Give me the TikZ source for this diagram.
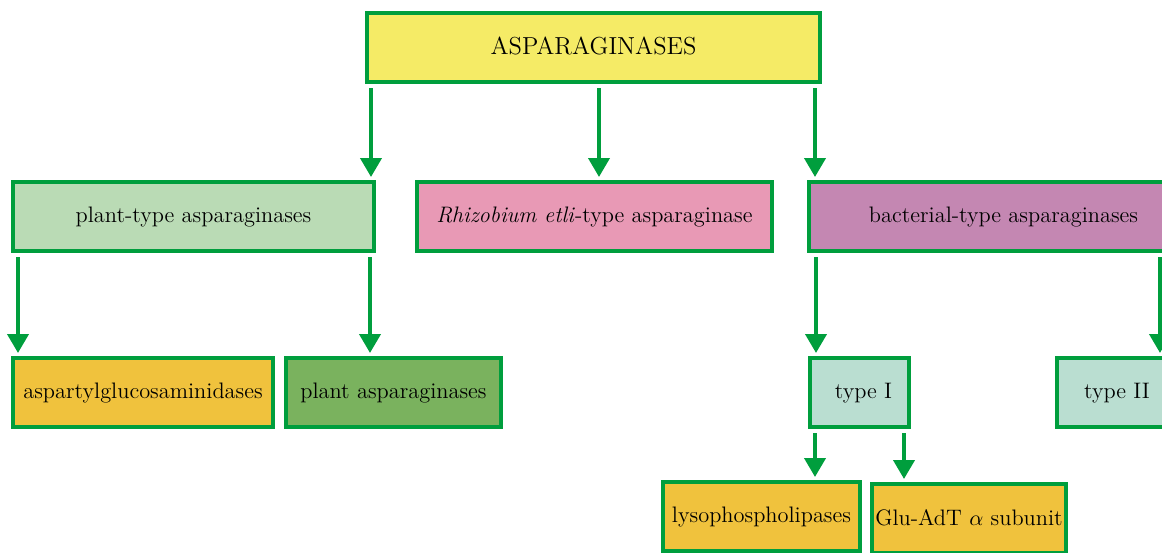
\documentclass[tikz,border=0pt]{standalone}
\usepackage{xcolor}
\usepackage{amssymb}
\usepackage{amsmath}
\usepackage{tikz}
\usetikzlibrary{arrows.meta}
\definecolor{ggreen}{rgb}{0.,0.62,0.24}
\definecolor{fyellow}{rgb}{0.96,0.92,0.40}
\definecolor{lgreen}{rgb}{0.73,0.86,0.71}
\definecolor{ppink}{rgb}{0.91,0.60,0.71}
\definecolor{mauve}{rgb}{0.77,0.53,0.70}
\definecolor{ochre}{rgb}{0.94,0.76,0.24}
\definecolor{mgreen}{rgb}{0.48,0.70,0.37}
\definecolor{lteal}{rgb}{0.73,0.87,0.82}
\tikzset{
  fam/.style={draw=ggreen,line width=2pt,minimum height=34.5pt,inner sep=1pt,
    text depth=0.3ex,font=\fontsize{11.2}{13}\selectfont},
  arr/.style={ggreen,line width=2pt,-{Triangle[width=10.5pt,length=9.5pt]},shorten <=2pt,shorten >=1.5pt}
}

\begin{document}
\begin{tikzpicture}[line cap=butt,line join=miter,x=0.5pt,y=-0.5pt]
\useasboundingbox (0,0) rectangle (1162,552);
\clip (0,0) rectangle (1162,552);
% boxes
\node [fam,fill=fyellow,minimum width=226.5pt,font=\fontsize{12.3}{14}\selectfont] (root) at (593.5,47.5) {ASPARAGINASES};
\node [fam,fill=lgreen,minimum width=180.5pt] (plant) at (193.5,216.5) {plant-type asparaginases};
\node [fam,fill=ppink,minimum width=177.5pt] (rhiz) at (594.5,216.5) {\textit{Rhizobium etli}-type asparaginase};
\node [fam,fill=mauve,minimum width=194.5pt] (bact) at (1003.5,216.5) {bacterial-type asparaginases};
\node [fam,fill=ochre,minimum width=130pt] (aspg) at (143,392.5) {aspartylglucosaminidases};
\node [fam,fill=mgreen,minimum width=107.5pt] (plasp) at (393.5,392.5) {plant asparaginases};
\node [fam,fill=lteal,minimum width=49.5pt] (typeI) at (859.5,392.5) {\hspace{4pt}type I};
\node [fam,fill=lteal,minimum width=60pt] (typeII) at (1117,392.5) {type II};
\node [fam,fill=ochre,minimum width=98.5pt] (lyso) at (761.5,516.5) {lysophospholipases};
\node [fam,fill=ochre,minimum width=97pt] (glu) at (969,518.5) {Glu-AdT $\alpha$ subunit};
% arrows
\draw [arr] ([xshift=-2.5pt]root.south -| plant.north east) -- ([xshift=-2.5pt]plant.north east);
\draw [arr] ([xshift=2.25pt]root.south -| rhiz.north) -- ([xshift=2.25pt]rhiz.north);
\draw [arr] ([xshift=4pt]root.south -| bact.north west) -- ([xshift=4pt]bact.north west);
\draw [arr] ([xshift=3.5pt]plant.south west) -- ([xshift=3.5pt]plant.south west |- aspg.north);
\draw [arr] ([xshift=-3pt]plant.south east) -- ([xshift=-3pt]plant.south east |- plasp.north);
\draw [arr] ([xshift=4pt]bact.south -| typeI.north west) -- ([xshift=4pt]typeI.north west);
\draw [arr] ([xshift=21.5pt]bact.south -| typeII.north) -- ([xshift=21.5pt]typeII.north);
\draw [arr] ([xshift=3.5pt]typeI.south west) -- ([xshift=3.5pt]typeI.south west |- lyso.north);
\draw [arr] ([xshift=-3.5pt]typeI.south east) -- ([xshift=-3.5pt]typeI.south east |- glu.north);
\end{tikzpicture}
\end{document}
